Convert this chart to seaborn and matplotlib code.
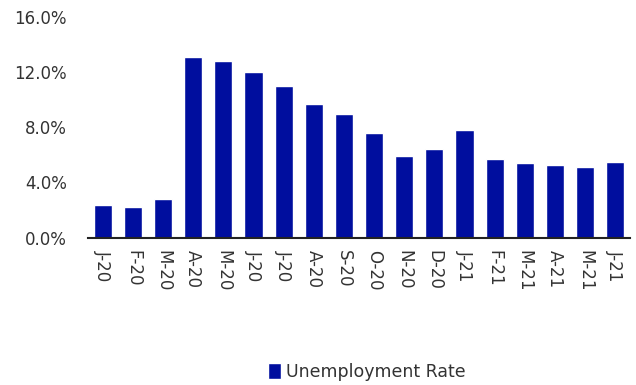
import numpy as np
import pandas as pd
import matplotlib
matplotlib.use("Agg")
import matplotlib.pyplot as plt
import seaborn as sns
from matplotlib.ticker import FuncFormatter, MultipleLocator

# Monthly unemployment rate, Jan 2020 - Jun 2021
months = ["J-20", "F-20", "M-20", "A-20", "M-20", "J-20", "J-20", "A-20", "S-20",
          "O-20", "N-20", "D-20", "J-21", "F-21", "M-21", "A-21", "M-21", "J-21"]
rates = [2.4, 2.2, 2.8, 13.1, 12.8, 12.0, 11.0, 9.7, 9.0,
         7.6, 5.9, 6.4, 7.8, 5.7, 5.4, 5.3, 5.1, 5.5]
series_name = "Unemployment Rate"

BAR_COLOR = "#000E9E"
TEXT_COLOR = "#333333"

sns.set_theme(style="white")
plt.rcParams["font.family"] = ["DejaVu Sans"]

df = pd.DataFrame({"idx": np.arange(len(months)), "rate": rates})

fig = plt.figure(figsize=(6.36, 3.85), dpi=100)
ax = fig.add_axes([0.138, 0.383, 0.853, 0.572])

sns.barplot(data=df, x="idx", y="rate", color=BAR_COLOR, width=0.6,
            saturation=1, label=series_name, ax=ax)
if ax.get_legend() is not None:
    ax.get_legend().remove()

ax.set_ylim(0, 16)
ax.yaxis.set_major_locator(MultipleLocator(4))
ax.yaxis.set_major_formatter(FuncFormatter(lambda v, _: f"{v:.1f}%"))
ax.set_xlim(-0.5, len(months) - 0.5)
ax.set_xticks(np.arange(len(months)))
ax.set_xticklabels(months, rotation=-90, ha="center", va="top")
ax.set_xlabel("")
ax.set_ylabel("")

for side in ["left", "right", "top"]:
    ax.spines[side].set_visible(False)
ax.spines["bottom"].set_color("#222222")
ax.spines["bottom"].set_linewidth(1.5)

ax.tick_params(axis="y", length=0, pad=15, labelsize=12, labelcolor=TEXT_COLOR)
ax.tick_params(axis="x", length=0, pad=9, labelsize=12, labelcolor=TEXT_COLOR)

handles, labels = ax.get_legend_handles_labels()
fig.legend(handles, labels, loc="center", bbox_to_anchor=(0.577, 0.034),
           frameon=False, fontsize=12.5, handlelength=0.75, handleheight=1.0,
           handletextpad=0.3, labelcolor=TEXT_COLOR)

fig.savefig("out.png", dpi=100)
